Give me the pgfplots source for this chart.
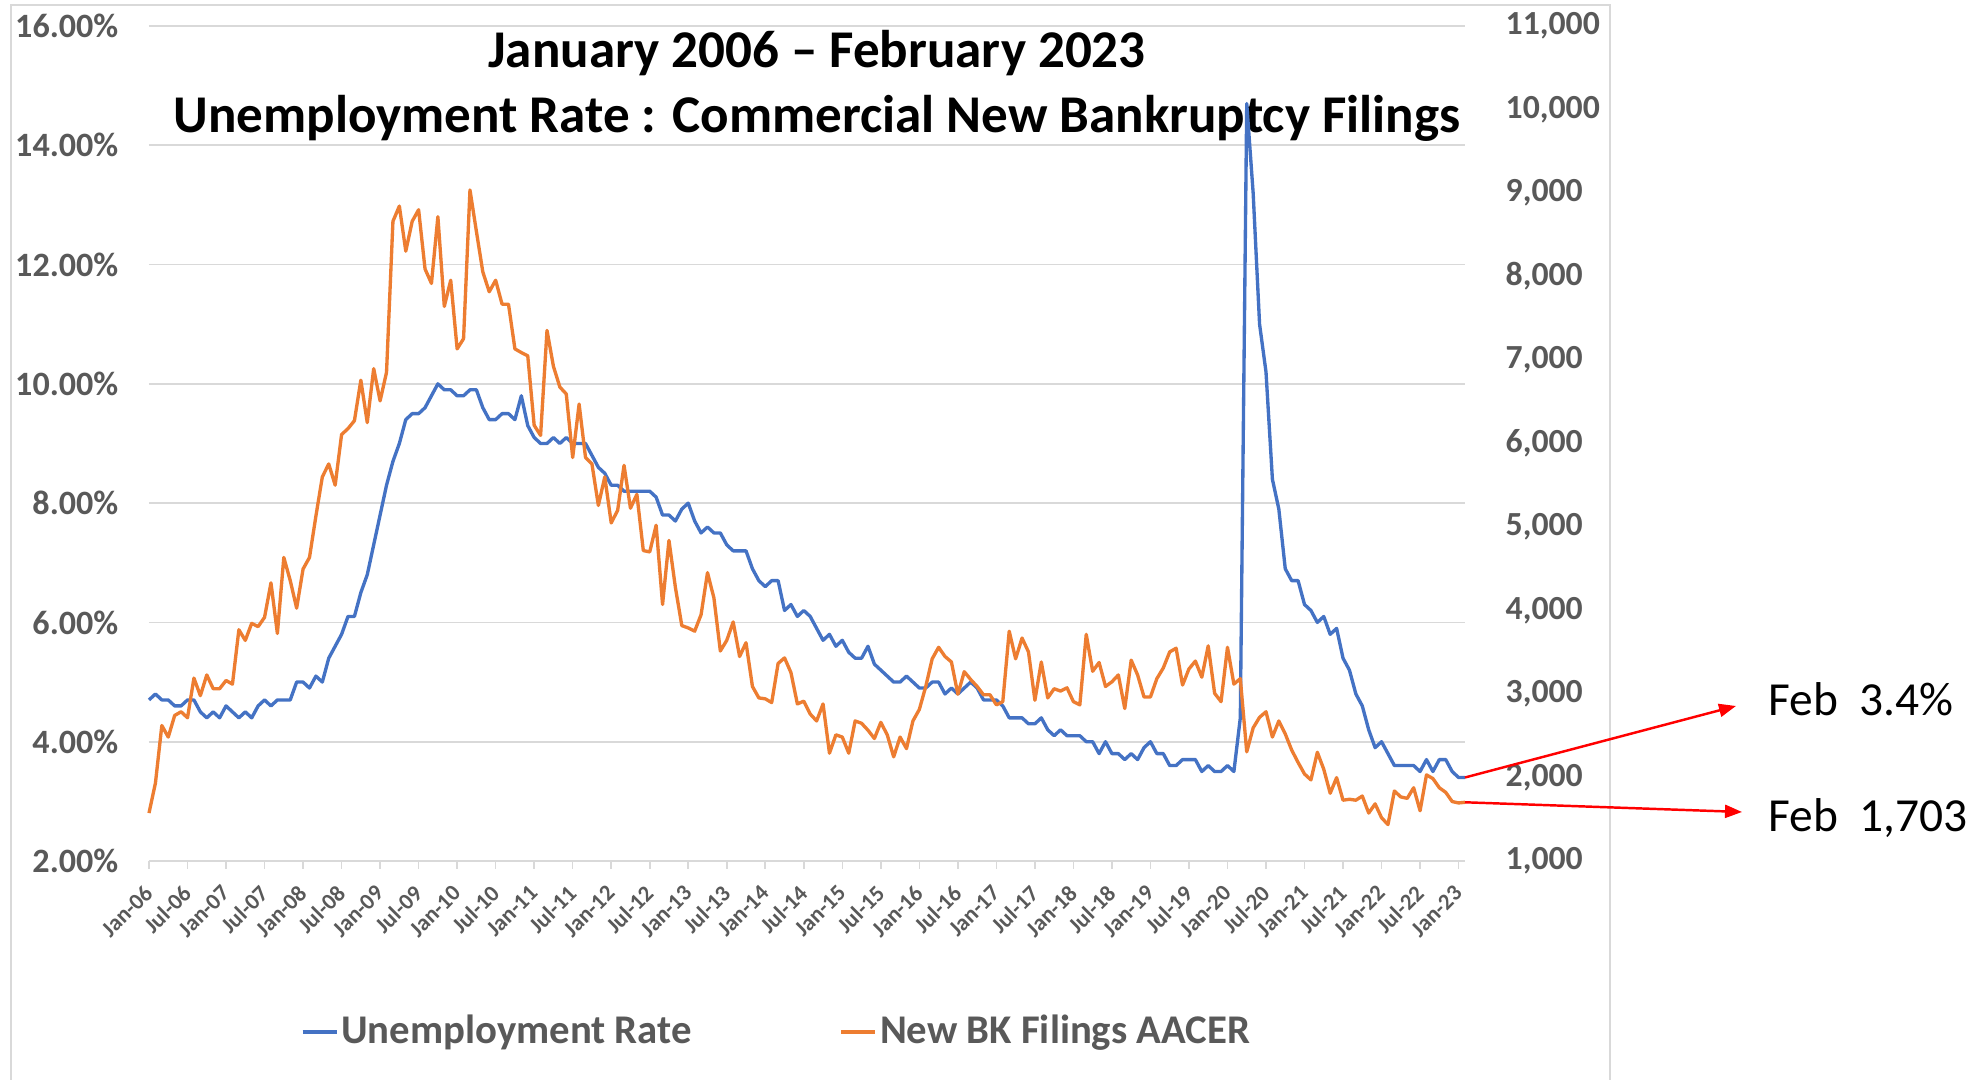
\documentclass[border=0pt]{standalone}
\usepackage{pgfplots}
\pgfplotsset{compat=1.18}
\usepackage{pgfplotstable}
\usepackage{fontspec}
\setmainfont{Carlito}
\usetikzlibrary{arrows.meta}
\definecolor{ublue}{HTML}{4472C4}
\definecolor{bkorange}{HTML}{ED7D31}
\definecolor{tickc}{HTML}{595959}
\definecolor{gridc}{HTML}{D9D9D9}
\definecolor{framec}{HTML}{D9D9D9}

\pgfplotstableread{
m u bk
0 4.7 1574
1 4.8 1932
2 4.7 2622
3 4.7 2484
4 4.6 2743
5 4.6 2787
6 4.7 2715
7 4.7 3190
8 4.5 2980
9 4.4 3228
10 4.5 3063
11 4.4 3063
12 4.6 3162
13 4.5 3118
14 4.4 3769
15 4.5 3642
16 4.4 3846
17 4.6 3807
18 4.7 3918
19 4.6 4331
20 4.7 3725
21 4.7 4635
22 4.7 4359
23 5.0 4028
24 5.0 4497
25 4.9 4635
26 5.1 5131
27 5.0 5600
28 5.4 5755
29 5.6 5501
30 5.8 6107
31 6.1 6178
32 6.1 6273
33 6.5 6758
34 6.8 6250
35 7.3 6896
36 7.8 6510
37 8.3 6852
38 8.7 8661
39 9.0 8843
40 9.4 8303
41 9.5 8661
42 9.5 8799
43 9.6 8090
44 9.8 7917
45 10.0 8716
46 9.9 7641
47 9.9 7955
48 9.8 7133
49 9.8 7255
50 9.9 9036
51 9.9 8540
52 9.6 8055
53 9.4 7817
54 9.4 7955
55 9.5 7668
56 9.5 7668
57 9.4 7133
58 9.8 7089
59 9.3 7050
60 9.1 6218
61 9.0 6097
62 9.0 7354
63 9.1 6924
64 9.0 6676
65 9.1 6593
66 9.0 5832
67 9.0 6472
68 9.0 5832
69 8.8 5755
70 8.6 5258
71 8.5 5600
72 8.3 5049
73 8.3 5198
74 8.2 5738
75 8.2 5225
76 8.2 5391
77 8.2 4718
78 8.2 4701
79 8.1 5021
80 7.8 4072
81 7.8 4839
82 7.7 4276
83 7.9 3819
84 8.0 3791
85 7.7 3752
86 7.5 3950
87 7.6 4453
88 7.5 4150
89 7.5 3515
90 7.3 3642
91 7.2 3863
92 7.2 3449
93 7.2 3614
94 6.9 3090
95 6.7 2953
96 6.6 2942
97 6.7 2897
98 6.7 3366
99 6.2 3432
100 6.3 3256
101 6.1 2881
102 6.2 2914
103 6.1 2760
104 5.9 2677
105 5.7 2881
106 5.8 2291
107 5.6 2511
108 5.7 2484
109 5.5 2291
110 5.4 2677
111 5.4 2649
112 5.6 2566
113 5.3 2467
114 5.2 2660
115 5.1 2511
116 5.0 2247
117 5.0 2484
118 5.1 2346
119 5.0 2677
120 4.9 2815
121 4.9 3090
122 5.0 3421
123 5.0 3559
124 4.8 3449
125 4.9 3383
126 4.8 2997
127 4.9 3267
128 5.0 3173
129 4.9 3090
130 4.7 2990
131 4.7 2991
132 4.7 2870
133 4.6 2908
134 4.4 3752
135 4.4 3421
136 4.4 3670
137 4.3 3504
138 4.3 2925
139 4.4 3383
140 4.2 2953
141 4.1 3063
142 4.2 3035
143 4.1 3074
144 4.1 2908
145 4.1 2870
146 4.0 3714
147 4.0 3272
148 3.8 3377
149 4.0 3090
150 3.8 3146
151 3.8 3228
152 3.7 2826
153 3.8 3405
154 3.7 3228
155 3.9 2964
156 4.0 2964
157 3.8 3184
158 3.8 3311
159 3.6 3504
160 3.6 3548
161 3.7 3107
162 3.7 3300
163 3.7 3394
164 3.5 3201
165 3.6 3576
166 3.5 3008
167 3.5 2908
168 3.6 3559
169 3.5 3118
170 4.4 3184
171 14.7 2307
172 13.2 2594
173 11.0 2721
174 10.2 2787
175 8.4 2484
176 7.9 2677
177 6.9 2522
178 6.7 2329
179 6.7 2180
180 6.3 2042
181 6.2 1971
182 6.0 2302
183 6.1 2098
184 5.8 1811
185 5.9 1998
186 5.4 1728
187 5.2 1739
188 4.8 1728
189 4.6 1778
190 4.2 1574
191 3.9 1684
192 4.0 1518
193 3.8 1436
194 3.6 1838
195 3.6 1767
196 3.6 1750
197 3.6 1877
198 3.5 1601
199 3.7 2031
200 3.5 1987
201 3.7 1877
202 3.7 1822
203 3.5 1712
204 3.4 1695
205 3.4 1703
}\datatable

\begin{document}
\begin{tikzpicture}
\useasboundingbox (0,0) rectangle (19.85,10.8);
\fill[white] (0,0) rectangle (19.85,10.8);
\draw[framec, line width=0.55pt] (0.11,-0.3) rectangle (16.10,10.75);

\node[anchor=base, font=\bfseries\fontsize{15.1}{17}\selectfont] at (8.17,10.12) {January 2006 – February 2023};
\node[anchor=base, font=\bfseries\fontsize{15.1}{17}\selectfont] at (8.17,9.47) {Unemployment Rate : Commercial New Bankruptcy Filings};

\begin{axis}[
  at={(1.49cm,2.19cm)}, anchor=south west,
  scale only axis, width=13.16cm, height=8.35cm,
  xmin=0, xmax=205, ymin=2, ymax=16,
  axis x line*=bottom, axis y line*=left,
  axis line style={draw=none},
  tick align=outside,
  major tick length=0.08cm,
  xtick={0,6,...,204},
  xticklabels={Jan-06,Jul-06,Jan-07,Jul-07,Jan-08,Jul-08,Jan-09,Jul-09,Jan-10,Jul-10,Jan-11,Jul-11,Jan-12,Jul-12,Jan-13,Jul-13,Jan-14,Jul-14,Jan-15,Jul-15,Jan-16,Jul-16,Jan-17,Jul-17,Jan-18,Jul-18,Jan-19,Jul-19,Jan-20,Jul-20,Jan-21,Jul-21,Jan-22,Jul-22,Jan-23},
  xtick style={draw=gridc, line width=0.45pt},
  xticklabel style={rotate=45, anchor=east, inner sep=0pt, font=\bfseries\fontsize{6.5}{7}\selectfont, text=tickc},
  xticklabel shift=0.2cm,
  ytick={2,4,...,16},
  yticklabels={2.00\%,4.00\%,6.00\%,8.00\%,10.00\%,12.00\%,14.00\%,16.00\%},
  ytick style={draw=none},
  yticklabel style={anchor=east, inner sep=0pt, font=\bfseries\fontsize{9.7}{10}\selectfont, text=tickc},
  yticklabel shift=0.22cm,
  ymajorgrids,
  major grid style={draw=gridc, line width=0.5pt},
  clip=false,
]
\addplot[ublue, line width=0.95pt, line join=round] table[x=m, y=u]{\datatable};
\coordinate (b) at (axis cs:205,3.4);
\end{axis}

\begin{axis}[
  at={(1.49cm,2.19cm)}, anchor=south west,
  scale only axis, width=13.16cm, height=8.35cm,
  xmin=0, xmax=205, ymin=1000, ymax=11000,
  hide x axis,
  axis y line*=right,
  axis line style={draw=none},
  tick align=outside,
  major tick length=0.08cm,
  scaled y ticks=false,
  ytick={1000,2000,...,11000},
  yticklabels={{1,000},{2,000},{3,000},{4,000},{5,000},{6,000},{7,000},{8,000},{9,000},{10,000},{11,000}},
  ytick style={draw=none},
  yticklabel style={anchor=west, inner sep=0pt, font=\bfseries\fontsize{9.6}{10}\selectfont, text=tickc},
  yticklabel shift=0.32cm,
  clip=false,
  legend columns=2,
  legend style={at={(0.1155,-0.2048)}, anchor=west, draw=none, fill=none,
    inner sep=0pt, outer sep=0pt,
    font=\bfseries\fontsize{11.6}{13}\selectfont, text=tickc,
    nodes={inner sep=0.03cm},
    /tikz/every even column/.append style={column sep=1.45cm}},
  legend image code/.code={\draw[#1] (0cm,0cm) -- (0.34cm,0cm);},
]
\addlegendimage{ublue, line width=0.95pt}
\addlegendentry{Unemployment Rate}
\addplot[bkorange, line width=0.95pt, line join=round] table[x=m, y=bk]{\datatable};
\addlegendentry{New BK Filings AACER}
\coordinate (o) at (axis cs:205,1703);
\end{axis}

\draw[red, line width=0.7pt, -{Triangle[length=0.17cm,width=0.13cm]}] (b) -- (17.36,3.74);
\draw[red, line width=0.7pt, -{Triangle[length=0.17cm,width=0.13cm]}] (o) -- (17.42,2.68);
\node[anchor=base west, inner sep=0pt, font=\fontsize{13.5}{15}\selectfont] at (17.68,3.64) {Feb\ \ 3.4\%};
\node[anchor=base west, inner sep=0pt, font=\fontsize{13.5}{15}\selectfont] at (17.68,2.48) {Feb\ \ 1,703};
\end{tikzpicture}
\end{document}
